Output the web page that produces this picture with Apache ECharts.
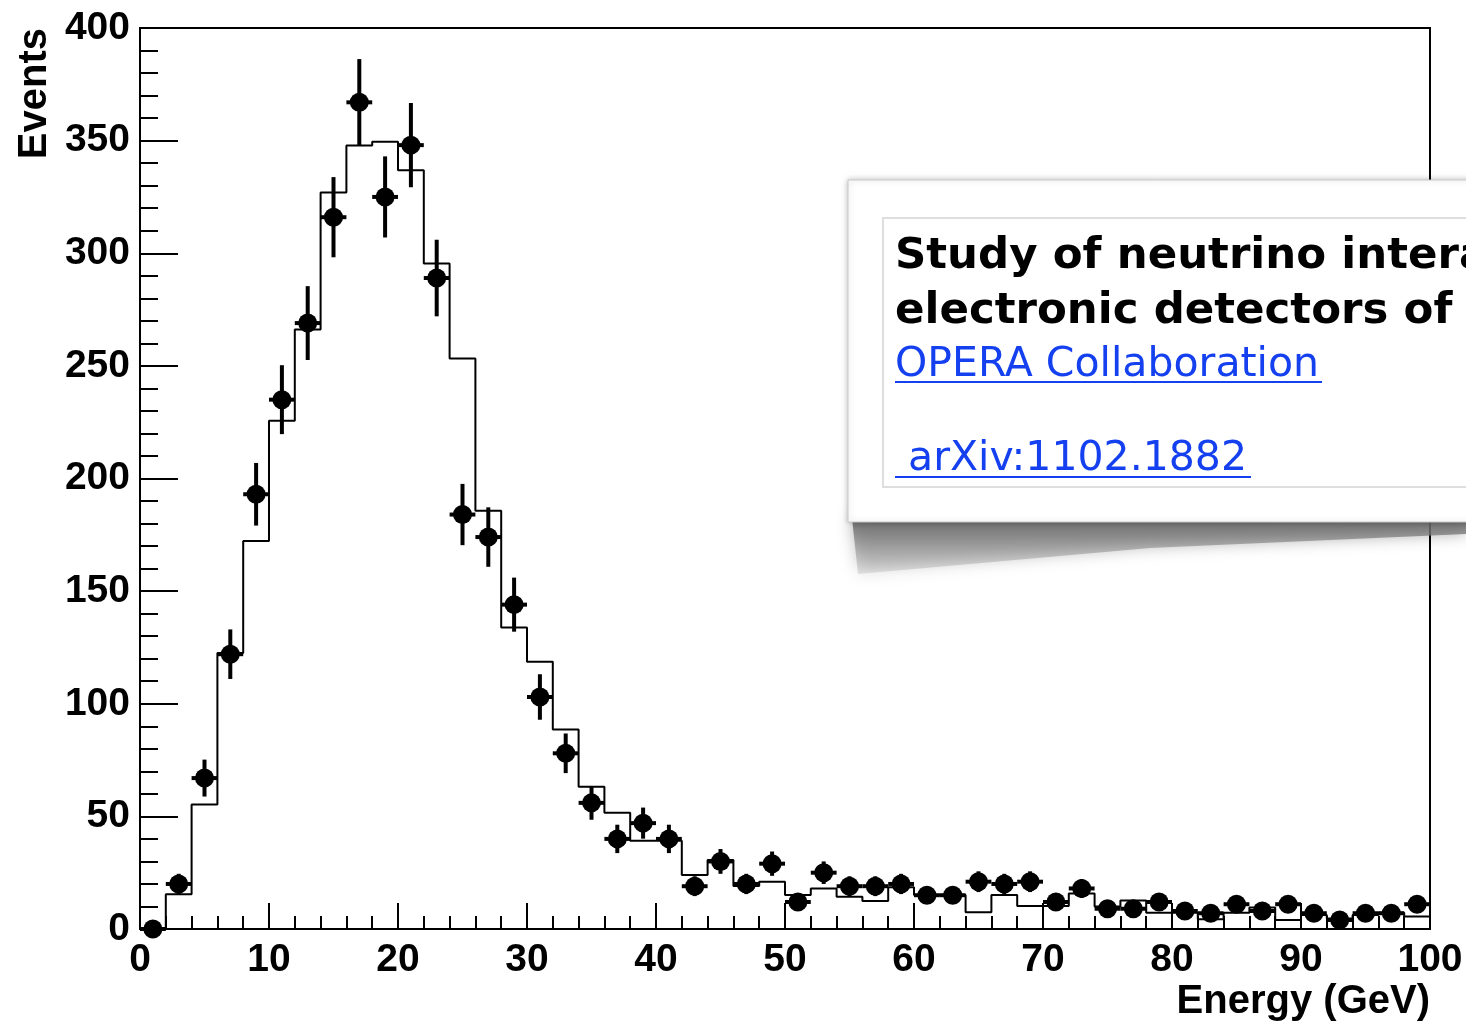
<!DOCTYPE html>
<html>
<head>
<meta charset="utf-8">
<title>Events vs Energy</title>
<script src="https://cdn.jsdelivr.net/npm/echarts@6/dist/echarts.min.js"></script>
<style>
html, body { margin: 0; padding: 0; background: #fff; }
#chart { width: 1466px; height: 1022px; }
</style>
</head>
<body>
<div id="chart"></div>
<script>
// bin centres (GeV), 2 GeV bins
const energyCenters = [1, 3, 5, 7, 9, 11, 13, 15, 17, 19, 21, 23, 25, 27, 29, 31, 33, 35, 37, 39,
  41, 43, 45, 47, 49, 51, 53, 55, 57, 59, 61, 63, 65, 67, 69, 71, 73, 75, 77, 79,
  81, 83, 85, 87, 89, 91, 93, 95, 97, 99];
const binWidth = 2;
// measured events (points)
const dataEvents = [0, 20, 67, 122, 193, 235, 269, 316, 367, 325, 348, 289, 184, 174, 144, 103, 78, 56, 40, 47,
  40, 19, 30, 20, 29, 12, 25, 19, 19, 20, 15, 15, 21, 20, 21, 12, 18, 9, 9, 12,
  8, 7, 11, 8, 11, 7, 4, 7, 7, 11];
// vertical error bars
const dataErrors = [0, 4.5, 8.2, 11, 13.9, 15.3, 16.4, 17.8, 19.2, 18, 18.7, 17, 13.6, 13.2, 12, 10.1, 8.8, 7.5, 6.3, 6.9,
  6.3, 4.4, 5.5, 4.5, 5.4, 3.5, 5, 4.4, 4.4, 4.5, 3.9, 3.9, 4.6, 4.5, 4.6, 3.5, 4.2, 3, 3, 3.5,
  2.8, 2.6, 3.3, 2.8, 3.3, 2.6, 2, 2.6, 2.6, 3.3];
// simulated expectation (histogram)
const mcEvents = [0, 15.4, 55.3, 122.5, 172.2, 225.6, 266.2, 327, 347.8, 349.5,
  336.9, 295.5, 253.3, 185.7, 133.9, 118.7, 88.6, 63.2, 51.6, 39.2,
  39.2, 24, 30.6, 19.1, 21, 15.1, 18, 14.3, 12.4, 18.5,
  15.1, 15.1, 7.4, 15.1, 10.2, 10.2, 15.8, 10, 12.6, 7.2,
  7.2, 4.3, 7.2, 9.5, 4, 6.2, 4.7, 6.2, 7.2, 5.5];
const xTicks = [0, 10, 20, 30, 40, 50, 60, 70, 80, 90, 100];
const yTicks = [0, 50, 100, 150, 200, 250, 300, 350, 400];

const axisFont = 'Liberation Sans';
const linkBlue = '#1440f0';

const chart = echarts.init(document.getElementById('chart'));

// histogram as step line: left edge of each bin, plus the closing edge
const histLine = mcEvents.map((v, i) => [energyCenters[i] - binWidth / 2, v]);
histLine.push([energyCenters[energyCenters.length - 1] + binWidth / 2, mcEvents[mcEvents.length - 1]]);

const points = dataEvents.map((v, i) => [energyCenters[i], v, dataErrors[i]]);

chart.setOption({
  animation: false,
  grid: {
    left: 140, right: 36, top: 28, bottom: 93,
    show: true, borderColor: '#000', borderWidth: 2
  },
  xAxis: {
    type: 'value',
    min: xTicks[0], max: xTicks[xTicks.length - 1], interval: 10,
    axisLine: { lineStyle: { color: '#000', width: 2 } },
    axisTick: { inside: true, length: 26, lineStyle: { color: '#000', width: 2 } },
    minorTick: { show: true, splitNumber: 5, length: 13, lineStyle: { color: '#000', width: 2 } },
    splitLine: { show: false },
    axisLabel: { color: '#000', fontFamily: axisFont, fontWeight: 'bold', fontSize: 39, margin: 12 }
  },
  yAxis: {
    type: 'value',
    min: yTicks[0], max: yTicks[yTicks.length - 1], interval: 50,
    axisLine: { lineStyle: { color: '#000', width: 2 } },
    axisTick: { inside: true, length: 38, lineStyle: { color: '#000', width: 2 } },
    minorTick: { show: true, splitNumber: 5, length: 18, lineStyle: { color: '#000', width: 2 } },
    splitLine: { show: false },
    axisLabel: { color: '#000', fontFamily: axisFont, fontWeight: 'bold', fontSize: 39, margin: 10 }
  },
  series: [
    {
      name: 'MC',
      type: 'line',
      step: 'end',
      data: histLine,
      symbol: 'none',
      lineStyle: { color: '#000', width: 2 },
      z: 2
    },
    {
      name: 'errors',
      type: 'custom',
      data: points,
      renderItem: function (params, api) {
        const x = api.value(0);
        const y = api.value(1);
        const e = api.value(2);
        const lo = api.coord([x, y - e]);
        const hi = api.coord([x, y + e]);
        const l = api.coord([x - binWidth / 2, y]);
        const r = api.coord([x + binWidth / 2, y]);
        return {
          type: 'group',
          children: [
            { type: 'line', shape: { x1: lo[0], y1: lo[1], x2: hi[0], y2: hi[1] }, style: { stroke: '#000', lineWidth: 4 } },
            { type: 'line', shape: { x1: l[0], y1: l[1], x2: r[0], y2: r[1] }, style: { stroke: '#000', lineWidth: 4 } }
          ]
        };
      },
      z: 3
    },
    {
      name: 'Data',
      type: 'scatter',
      data: points,
      symbol: 'circle',
      symbolSize: 19,
      itemStyle: { color: '#000', opacity: 1 },
      z: 4
    }
  ],
  graphic: [
    {
      type: 'text', x: 35, y: 28, rotation: Math.PI / 2,
      style: { text: 'Events', align: 'right', verticalAlign: 'middle', fill: '#000',
        font: 'bold 40px "Liberation Sans"' }
    },
    {
      type: 'text', x: 1430, y: 982,
      style: { text: 'Energy (GeV)', align: 'right', verticalAlign: 'top', fill: '#000',
        font: 'bold 40px "Liberation Sans"' }
    },
    // popup card with curled shadow
    {
      type: 'polygon', z: 100,
      shape: { points: [[852, 518], [1466, 518], [1466, 534], [1150, 548], [858, 574]] },
      style: {
        fill: new echarts.graphic.LinearGradient(0, 0, 0, 1, [
          { offset: 0, color: 'rgba(100,100,100,0.95)' },
          { offset: 1, color: 'rgba(170,170,170,0.3)' }
        ]),
        shadowBlur: 16, shadowColor: 'rgba(0,0,0,0.4)'
      }
    },
    {
      type: 'rect', z: 101,
      shape: { x: 848, y: 180, width: 640, height: 342 },
      style: { fill: '#fff', stroke: '#c8c8c8', lineWidth: 1, shadowBlur: 6, shadowColor: 'rgba(0,0,0,0.25)' }
    },
    {
      type: 'rect', z: 102,
      shape: { x: 883, y: 218, width: 600, height: 269 },
      style: { fill: '#fff', stroke: '#dedede', lineWidth: 2 }
    },
    {
      type: 'text', z: 103, x: 895, y: 235,
      style: { text: 'Study of neutrino interactions with the', fill: '#000', width: 600, overflow: 'truncate', ellipsis: '',
        font: 'bold 43.5px "DejaVu Sans"' }
    },
    {
      type: 'text', z: 103, x: 895, y: 290,
      style: { text: 'electronic detectors of the OPERA experiment', fill: '#000', width: 580, overflow: 'truncate', ellipsis: '',
        font: 'bold 43.5px "DejaVu Sans"' }
    },
    {
      type: 'text', z: 103, x: 895, y: 345,
      style: { text: 'OPERA Collaboration', fill: linkBlue, font: '41px "DejaVu Sans"' }
    },
    {
      type: 'line', z: 103,
      shape: { x1: 895, y1: 382, x2: 1322, y2: 382 },
      style: { stroke: linkBlue, lineWidth: 2 }
    },
    {
      type: 'text', z: 103, x: 895, y: 439,
      style: { text: ' arXiv:1102.1882', fill: linkBlue, font: '41px "DejaVu Sans"' }
    },
    {
      type: 'line', z: 103,
      shape: { x1: 895, y1: 477, x2: 1251, y2: 477 },
      style: { stroke: linkBlue, lineWidth: 2 }
    }
  ]
});
</script>
</body>
</html>
